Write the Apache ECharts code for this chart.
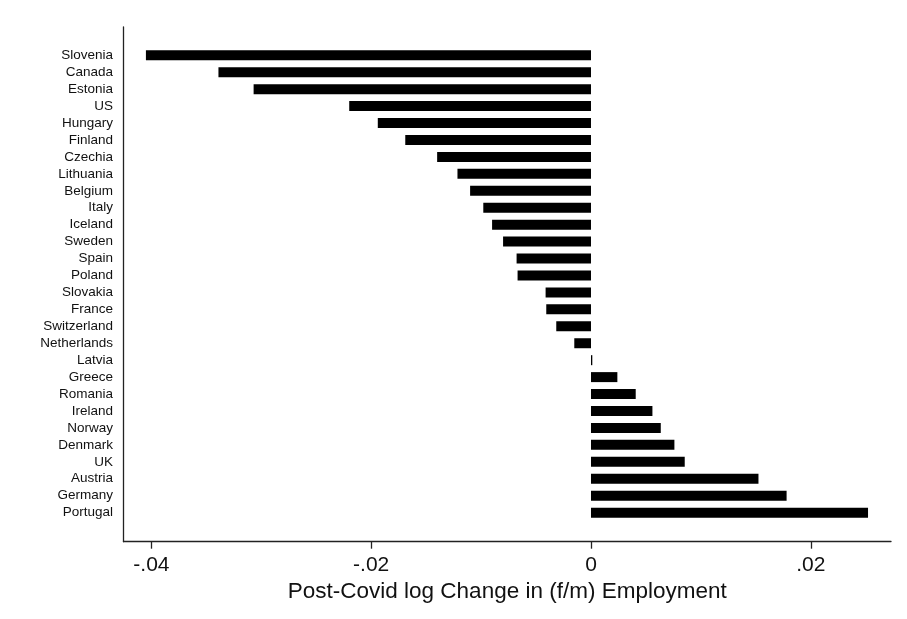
<!DOCTYPE html>
<html>
<head>
<meta charset="utf-8">
<script src="https://cdn.jsdelivr.net/npm/echarts@6/dist/echarts.min.js"></script>
<style>html,body{margin:0;padding:0;background:#fff}#c{width:907px;height:619px}</style>
</head>
<body>
<div id="c"></div>
<script>
const countries = ["Slovenia","Canada","Estonia","US","Hungary","Finland","Czechia","Lithuania","Belgium","Italy","Iceland","Sweden","Spain","Poland","Slovakia","France","Switzerland","Netherlands","Latvia","Greece","Romania","Ireland","Norway","Denmark","UK","Austria","Germany","Portugal"];
const values = [-0.0405,-0.0339,-0.0307,-0.0220,-0.0194,-0.0169,-0.0140,-0.01215,-0.0110,-0.0098,-0.0090,-0.0080,-0.00677,-0.00668,-0.00413,-0.00407,-0.00316,-0.00152,0.00012,0.0024,0.00407,0.00559,0.00635,0.00759,0.00853,0.01524,0.0178,0.02521];
const xTicks = [-0.04,-0.02,0,0.02];
const xTickLabels = ["-.04","-.02","0",".02"];
const xTitle = "Post-Covid log Change in (f/m) Employment";

const FONT = '"Liberation Sans", Arial, Helvetica, sans-serif';
const xMin = -0.04254, xMax = 0.0273;
const chart = echarts.init(document.getElementById('c'), null, {renderer:'canvas'});
chart.setOption({
  animation:false,
  backgroundColor:'#fff',
  grid:[
    {left:123.5, right:16, top:27, bottom:77.3},
    {left:123.5, right:16, top:46.8, height:474.3}
  ],
  xAxis:[
    {gridIndex:0, type:'value', min:xMin, max:xMax,
     axisLine:{show:true, onZero:false, lineStyle:{color:'#222', width:1.3}},
     axisTick:{show:true, length:7, customValues:xTicks, lineStyle:{color:'#222', width:1.3}},
     axisLabel:{show:true, customValues:xTicks, margin:13, fontFamily:FONT, fontSize:21, color:'#111',
       formatter:function(v){ const i = xTicks.findIndex(t=>Math.abs(t-v)<1e-9); return i>=0?xTickLabels[i]:''; }},
     splitLine:{show:false},
     name:xTitle, nameLocation:'middle', nameGap:38,
     nameTextStyle:{fontFamily:FONT, fontSize:22.5, color:'#111'}
    },
    {gridIndex:1, type:'value', min:xMin, max:xMax, show:false, splitLine:{show:false}}
  ],
  yAxis:[
    {gridIndex:0, type:'value', min:0, max:1,
     axisLine:{show:true, onZero:false, lineStyle:{color:'#222', width:1.3}},
     axisTick:{show:false}, axisLabel:{show:false}, splitLine:{show:false}},
    {gridIndex:1, type:'category', data:countries, inverse:true,
     axisLine:{show:false}, axisTick:{show:false},
     axisLabel:{margin:10.5, fontFamily:FONT, fontSize:13.5, color:'#111', interval:0},
     splitLine:{show:false}}
  ],
  series:[{
    type:'bar', xAxisIndex:1, yAxisIndex:1, data:values, barWidth:10,
    itemStyle:{color:'#000'}
  }]
});
</script>
</body>
</html>
